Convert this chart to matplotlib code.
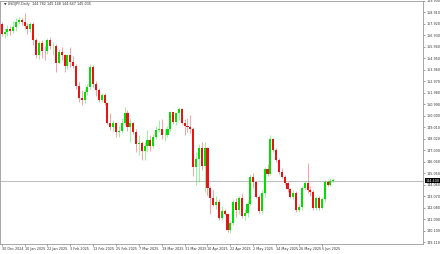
import matplotlib
matplotlib.use('Agg')
import matplotlib.pyplot as plt
import numpy as np

# USDJPY daily bars, 30 Dec 2024 .. 11 Jun 2025
opens = [157.90, 157.05, 157.20, 157.45, 157.30, 157.65, 158.05, 158.30, 158.05, 157.75,
         157.50, 157.95, 156.50, 155.20, 156.30, 155.60, 155.55, 156.55, 156.00, 156.05,
         154.55, 155.50, 155.20, 154.30, 155.20, 154.60, 154.30, 152.60, 151.50, 151.40,
         152.05, 152.50, 154.20, 152.70, 152.20, 151.40, 151.80, 151.10, 149.40, 149.00,
         149.35, 148.60, 148.70, 149.40, 150.20, 149.05, 149.40, 148.60, 147.60, 147.65,
         146.95, 147.40, 147.90, 147.40, 148.20, 148.80, 148.90, 148.30, 148.35, 148.90,
         150.30, 149.50, 150.20, 150.60, 149.40, 149.15, 149.05, 148.90, 145.60, 146.30,
         147.20, 145.70, 147.20, 143.80, 142.90, 142.30, 142.60, 141.20, 141.80, 141.50,
         140.15, 140.75, 142.60, 141.90, 142.95, 141.35, 141.60, 142.40, 144.70, 144.30,
         143.00, 141.75, 143.30, 145.40, 144.95, 148.00, 147.05, 146.20, 145.15, 144.70,
         144.20, 143.70, 143.00, 143.30, 141.85, 142.10, 143.75, 144.20, 143.60, 143.45,
         142.05, 142.90, 142.05, 142.80, 144.30, 144.05, 144.35]
highs = [158.10, 157.60, 157.80, 157.75, 158.20, 158.40, 158.55, 158.45, 158.87, 158.00,
         158.05, 158.10, 156.70, 156.45, 156.50, 156.00, 156.75, 156.80, 156.40, 156.20,
         155.80, 155.90, 155.30, 155.30, 155.90, 155.15, 154.45, 152.95, 152.20, 152.30,
         152.75, 154.50, 154.40, 153.00, 152.40, 152.00, 152.00, 151.20, 150.20, 149.60,
         149.50, 149.10, 149.80, 150.80, 150.50, 149.80, 149.50, 148.90, 148.30, 147.80,
         147.70, 148.80, 148.30, 148.40, 149.10, 149.60, 149.70, 148.90, 149.10, 150.40,
         150.35, 150.35, 150.80, 150.70, 149.70, 149.80, 150.10, 149.00, 146.90, 147.60,
         147.70, 147.70, 147.30, 143.95, 143.60, 143.10, 142.80, 142.20, 141.95, 141.60,
         140.95, 142.80, 142.90, 143.10, 143.30, 142.00, 142.70, 145.00, 145.10, 144.40,
         143.20, 143.60, 145.60, 145.80, 148.30, 148.10, 147.20, 146.40, 145.50, 144.90,
         144.30, 143.80, 143.60, 143.50, 142.40, 143.90, 144.40, 145.92, 143.90, 143.60,
         143.10, 143.10, 143.00, 144.50, 144.50, 144.60, 144.60]
lows = [156.90, 156.75, 156.90, 156.95, 157.10, 157.30, 157.90, 157.80, 157.50, 157.05,
        157.20, 156.10, 154.95, 154.90, 155.00, 154.80, 155.30, 155.80, 155.25, 153.75,
        154.50, 154.80, 153.80, 154.05, 154.20, 154.10, 152.35, 151.20, 150.90, 151.10,
        151.75, 152.30, 152.50, 151.70, 151.20, 151.20, 150.90, 149.30, 148.80, 148.70,
        148.20, 148.20, 148.50, 149.20, 148.70, 147.70, 148.40, 146.90, 146.60, 146.20,
        146.20, 146.90, 147.00, 147.20, 148.00, 148.60, 148.00, 147.80, 148.20, 148.70,
        149.30, 149.20, 149.60, 149.30, 148.30, 148.60, 148.50, 144.80, 144.00, 144.30,
        145.30, 143.40, 143.20, 141.50, 142.20, 142.00, 141.00, 141.00, 141.40, 139.95,
        139.90, 140.60, 141.30, 141.50, 141.20, 141.00, 141.30, 142.30, 143.80, 142.90,
        141.60, 141.60, 143.00, 144.80, 144.90, 146.90, 146.00, 145.00, 144.60, 144.00,
        143.40, 142.90, 142.80, 141.70, 141.70, 141.90, 143.60, 143.30, 143.10, 141.90,
        141.90, 141.90, 141.95, 142.60, 143.90, 143.90, 144.30]
closes = [157.05, 157.20, 157.45, 157.30, 157.65, 158.05, 158.30, 158.05, 157.75, 157.50,
          157.95, 156.50, 155.20, 156.30, 155.60, 155.55, 156.55, 156.00, 156.05, 154.55,
          155.50, 155.20, 154.30, 155.20, 154.60, 154.30, 152.60, 151.50, 151.40, 152.05,
          152.50, 154.20, 152.70, 152.20, 151.40, 151.80, 151.10, 149.40, 149.00, 149.35,
          148.60, 148.70, 149.40, 150.20, 149.05, 149.40, 148.60, 147.60, 147.65, 146.95,
          147.40, 147.90, 147.40, 148.20, 148.80, 148.90, 148.30, 148.35, 148.90, 150.30,
          149.50, 150.20, 150.60, 149.40, 149.15, 149.05, 148.90, 145.60, 146.30, 147.20,
          145.70, 147.20, 143.80, 142.90, 142.30, 142.60, 141.20, 141.80, 141.50, 140.15,
          140.75, 142.60, 141.90, 142.95, 141.35, 141.60, 142.40, 144.70, 144.30, 143.00,
          141.75, 143.30, 145.40, 144.95, 148.00, 147.05, 146.20, 145.15, 144.70, 144.20,
          143.70, 143.00, 143.30, 141.85, 142.10, 143.75, 144.20, 143.60, 143.45, 142.05,
          142.90, 142.05, 142.80, 144.30, 144.05, 144.35, 144.45]

date_labels = ['30 Dec 2024', '10 Jan 2025', '22 Jan 2025', '3 Feb 2025', '13 Feb 2025',
               '25 Feb 2025', '7 Mar 2025', '19 Mar 2025', '31 Mar 2025', '10 Apr 2025',
               '22 Apr 2025', '2 May 2025', '14 May 2025', '26 May 2025', '5 Jun 2025']
price_ticks = [139.110 + 0.990 * k for k in range(22)]
header = '\u25bc USDJPY,Daily  144.782 145.148 144.647 145.035'
last_price = 144.40

up_col = '#00e000'
dn_col = '#e81414'

fig = plt.figure(figsize=(4.4, 2.54), dpi=100)
fig.patch.set_facecolor('white')
ax = fig.add_axes([0.0, 10 / 254, 423 / 440, 243 / 254])

x = np.arange(len(opens))
o = np.array(opens)
h = np.array(highs)
l = np.array(lows)
c = np.array(closes)
up = c >= o
cols = np.where(up, up_col, dn_col)

# wicks then bodies
ax.vlines(x, l, h, colors=cols, linewidth=0.5, alpha=0.55)
body_lo = np.minimum(o, c)
body_h = np.maximum(np.abs(c - o), 0.04)
ax.bar(x, body_h, bottom=body_lo, width=0.72, color=cols, linewidth=0)

# current price line + label
ax.axhline(last_price, color='#c0c0c0', linewidth=0.8, zorder=0)
ax.text(1.006, last_price, '%.3f' % last_price, transform=ax.get_yaxis_transform(),
        fontsize=2.4, color='white', va='center', ha='left',
        bbox=dict(boxstyle='square,pad=0.2', fc='black', ec='none'))

ax.set_xlim(-0.6, 147.4)
ax.set_ylim(138.94, 159.9)

ax.yaxis.tick_right()
ax.set_yticks(price_ticks)
ax.set_yticklabels(['%.3f' % v for v in price_ticks])
ax.tick_params(axis='y', length=1.5, width=0.5, pad=1, labelsize=2.4,
               colors='#777777', labelcolor='#333333')

ax.set_xticks(x[::8][:len(date_labels)])
ax.set_xticklabels(date_labels, ha='left')
ax.tick_params(axis='x', length=1.5, width=0.5, pad=1, labelsize=2.4,
               colors='#777777', labelcolor='#333333')

for s in ax.spines.values():
    s.set_color('#9a9a9a')
    s.set_linewidth(0.6)

fig.text(4 / 440, 1 - 4 / 254, header, fontsize=2.4, color='#333333',
         va='center', ha='left')

fig.savefig('out.png', dpi=100, facecolor='white')
